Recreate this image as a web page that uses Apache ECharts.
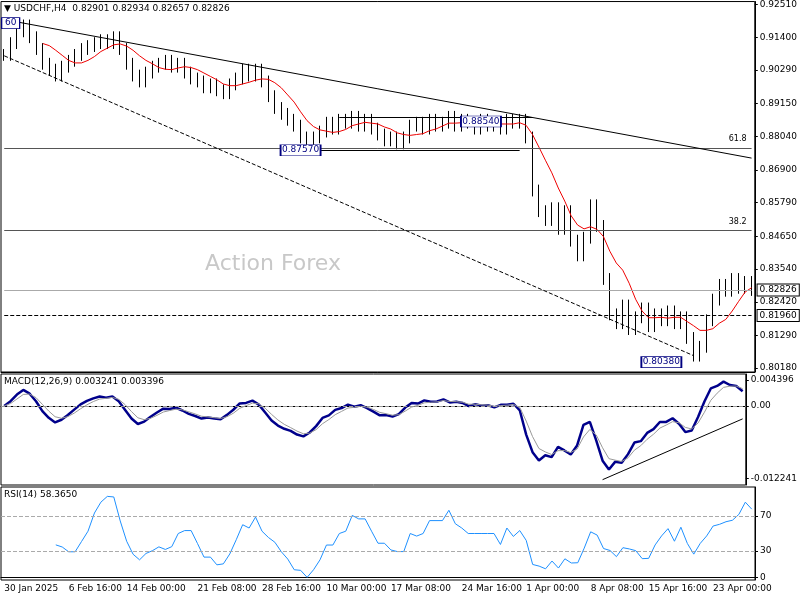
<!DOCTYPE html>
<html><head><meta charset="utf-8">
<script src="https://cdn.jsdelivr.net/npm/echarts@6/dist/echarts.min.js"></script>
<style>html,body{margin:0;background:#fff}#main{width:800px;height:600px}</style>
</head><body><div id="main"></div>
<script>
// closes, one point per ~12h
const closes = [
  0.908, 0.912, 0.916, 0.918,
  0.914, 0.910, 0.905,
  0.903, 0.901, 0.904, 0.906,
  0.908, 0.910, 0.911, 0.912, 0.913, 0.912, 0.914,
  0.910, 0.905, 0.901, 0.899,
  0.902, 0.904, 0.905, 0.906, 0.904, 0.905,
  0.902, 0.900, 0.899, 0.897, 0.898, 0.896, 0.895,
  0.898, 0.900, 0.903, 0.901, 0.903,
  0.899, 0.894, 0.890, 0.888, 0.886, 0.884, 0.880, 0.878,
  0.880, 0.882, 0.885, 0.883, 0.886, 0.885, 0.887, 0.884, 0.886,
  0.883, 0.881, 0.879, 0.880, 0.878, 0.880,
  0.884, 0.885, 0.883, 0.886, 0.884, 0.885, 0.887, 0.884, 0.886, 0.885, 0.883, 0.886, 0.884, 0.885, 0.883, 0.886, 0.885,
  0.886, 0.880, 0.862, 0.855, 0.852,
  0.856, 0.849, 0.855, 0.845, 0.840, 0.846, 0.857, 0.850,
  0.832, 0.820,
  0.817, 0.823, 0.815, 0.819, 0.822, 0.816, 0.820, 0.818, 0.821, 0.817, 0.819,
  0.812, 0.806, 0.809,
  0.818, 0.825, 0.830, 0.828, 0.832, 0.829, 0.831, 0.82826
];
const dateLabels = {
  0: '30 Jan 2025', 10: '6 Feb 16:00', 19: '14 Feb 00:00', 30: '21 Feb 08:00',
  40: '28 Feb 16:00', 50: '10 Mar 00:00', 60: '17 Mar 08:00', 71: '24 Mar 16:00',
  81: '1 Apr 00:00', 91: '8 Apr 08:00', 100: '15 Apr 16:00', 110: '23 Apr 00:00'
};
const priceTicks = [0.92510, 0.91400, 0.90290, 0.89150, 0.88040, 0.86900, 0.85790, 0.84650, 0.83540, 0.82420, 0.81290, 0.80180];
const macdTicks = [0.004396, 0.00, -0.012241];
const rsiTicks = [70, 30, 0];
const fibLevels = [0.8763, 0.8484];

const n = closes.length;
const cats = closes.map((_, i) => i);
const ohlc = closes.map((c, i) => {
  const o = i ? closes[i - 1] : c;
  return [o, c, Math.min(o, c) - 0.002, Math.max(o, c) + 0.002];
});
const sma = (arr, p) => arr.map((_, i) => i < p - 1 ? null : arr.slice(i - p + 1, i + 1).reduce((a, b) => a + b, 0) / p);
const ema = (arr, p) => { const k = 2 / (p + 1); let e = arr[0]; return arr.map(v => (e = v * k + e * (1 - k))); };
const ma = sma(closes, 7);
const e1 = ema(closes, 4), e2 = ema(closes, 9);
const macd = closes.map((_, i) => e1[i] - e2[i]);
const signal = ema(macd, 3);
const rsi = closes.map((_, i) => {
  const p = 8; if (i < p) return null;
  let g = 0, l = 0;
  for (let j = i - p + 1; j <= i; j++) { const d = closes[j] - closes[j - 1]; if (d > 0) g += d; else l -= d; }
  return l === 0 ? 100 : 100 - 100 / (1 + g / l);
});

const dom = document.getElementById('main');
const myChart = echarts.init(dom);
const font = { fontFamily: 'DejaVu Sans', fontSize: 9, color: '#000' };
const grids = [
  { left: 1, right: 45, top: 1, height: 371 },
  { left: 1, right: 45, top: 374, height: 111 },
  { left: 1, right: 45, top: 487, height: 93 }
];
const xAxis = grids.map((_, gi) => ({
  type: 'category', gridIndex: gi, data: cats, boundaryGap: true,
  axisLine: { lineStyle: { color: '#000' } }, axisTick: { show: false },
  axisLabel: gi < 2 ? { show: false } : {
    ...font, interval: 0, align: 'left', margin: 4,
    formatter: (v) => dateLabels[v] || ''
  }
}));
const yBase = (gi, min, max, ticks, fmt) => ({
  type: 'value', gridIndex: gi, position: 'right', min, max, scale: true,
  splitLine: { show: false },
  axisLine: { show: true, lineStyle: { color: '#000' } },
  axisTick: { show: true, customValues: ticks, length: 3 },
  axisLabel: { ...font, customValues: ticks, formatter: fmt, margin: 5 }
});
const hl = (y, color, type) => ({ yAxis: y, lineStyle: { color, type, width: 1 }, label: { show: false } });
const seg = (x1, y1, x2, y2, color, type, label) => [
  {
    coord: [x1, y1], lineStyle: { color, type, width: 1 },
    label: label ? { show: true, position: 'insideEndTop', formatter: label, ...font, fontSize: 8 } : { show: false }
  },
  { coord: [x2, y2] }
];
const tag = (y, color, type) => {
  const s = seg(0, y, n - 1, y, color, type);
  s[0].label = {
    show: true, position: 'end', distance: 6, formatter: y.toFixed(5), ...font,
    backgroundColor: '#fff', borderColor: '#000', borderWidth: 1, padding: [1, 2]
  };
  return s;
};

const option = {
  animation: false,
  grid: grids.map(g => ({ ...g, show: true, borderColor: '#000', borderWidth: 1 })),
  xAxis,
  yAxis: [
    yBase(0, 0.80045, 0.9261, priceTicks, v => v.toFixed(5)),
    yBase(1, -0.0134, 0.0054, macdTicks, v => v === 0 ? '0.00' : v.toFixed(6)),
    yBase(2, -3, 103, rsiTicks, v => String(v))
  ],
  graphic: [
    { type: 'text', left: 4, top: 4, style: { text: '▼ USDCHF,H4  0.82901 0.82934 0.82657 0.82826', ...font, fill: '#000' } },
    { type: 'text', left: 4, top: 377, style: { text: 'MACD(12,26,9) 0.003241 0.003396', ...font, fill: '#000' } },
    { type: 'text', left: 4, top: 490, style: { text: 'RSI(14) 58.3650', ...font, fill: '#000' } },
    { type: 'text', left: 205, top: 253, style: { text: 'Action Forex', fontFamily: 'DejaVu Sans', fontSize: 22, fill: '#c8c8c8' } }
  ],
  series: [
    {
      type: 'candlestick', xAxisIndex: 0, yAxisIndex: 0, data: ohlc, barWidth: 1,
      itemStyle: { color: '#000', color0: '#000', borderColor: '#000', borderColor0: '#000', borderWidth: 1 },
      markPoint: {
        symbol: 'rect', symbolSize: [40, 11], silent: true,
        itemStyle: { color: '#fff', borderColor: '#000080', borderWidth: 1 },
        label: { ...font, color: '#000080' },
        data: [
          { coord: [46, 0.8757], value: '0.87570' },
          { coord: [74, 0.8854], value: '0.88540' },
          { coord: [102, 0.8038], value: '0.80380' },
          { coord: [0.5, 0.9188], value: '60', symbolSize: [18, 11] }
        ]
      }
    },
    {
      type: 'line', xAxisIndex: 0, yAxisIndex: 0, data: ma, showSymbol: false, lineStyle: { color: '#e00', width: 1 },
      markLine: {
        symbol: 'none', silent: true,
        data: [
          seg(0, fibLevels[0], n - 1, fibLevels[0], '#555', 'solid', '61.8'),
          seg(0, fibLevels[1], n - 1, fibLevels[1], '#555', 'solid', '38.2'),
          tag(0.82826, '#aaa', 'solid'),
          tag(0.8196, '#000', 'dashed'),
          seg(0, 0.9200, n - 1, 0.8730, '#000', 'solid'),
          seg(0, 0.9077, 107, 0.8060, '#000', 'dashed'),
          seg(52, 0.8870, 82, 0.8870, '#000', 'solid'),
          seg(49, 0.8757, 80, 0.8757, '#000', 'solid')
        ]
      }
    },
    {
      type: 'line', xAxisIndex: 1, yAxisIndex: 1, data: macd, showSymbol: false, lineStyle: { color: '#00008b', width: 2.5 },
      markLine: {
        symbol: 'none', silent: true, label: { show: false },
        data: [
          hl(0, '#999', 'dashed'),
          seg(94, -0.0125, n - 1, -0.0022, '#000', 'solid')
        ]
      }
    },
    { type: 'line', xAxisIndex: 1, yAxisIndex: 1, data: signal, showSymbol: false, lineStyle: { color: '#999', width: 1 } },
    {
      type: 'line', xAxisIndex: 2, yAxisIndex: 2, data: rsi, showSymbol: false, lineStyle: { color: '#1e90ff', width: 1 },
      markLine: { symbol: 'none', silent: true, label: { show: false }, data: [hl(70, '#aaa', 'dashed'), hl(30, '#aaa', 'dashed')] }
    }
  ]
};
myChart.setOption(option);
window.addEventListener('resize', myChart.resize);
</script></body></html>
